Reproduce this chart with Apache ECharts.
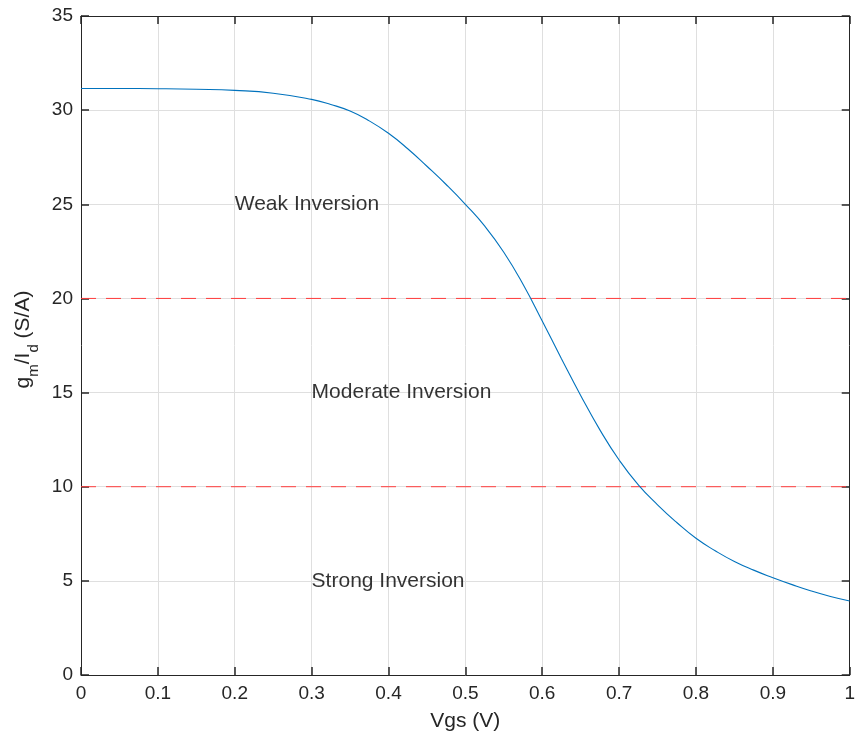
<!DOCTYPE html>
<html>
<head>
<meta charset="utf-8">
<script src="https://cdn.jsdelivr.net/npm/echarts@6/dist/echarts.min.js"></script>
<style>
html,body{margin:0;padding:0;background:#fff;}
#c{width:858px;height:742px;}
</style>
</head>
<body>
<div id="c"></div>
<script>
// Curve data: Vgs (V) and gm/Id (S/A)
const vgs = [0, 0.05, 0.1, 0.15, 0.2, 0.25, 0.3, 0.325, 0.35, 0.375, 0.4, 0.425, 0.45, 0.475, 0.5, 0.525, 0.55, 0.575, 0.6, 0.625, 0.65, 0.675, 0.7, 0.725, 0.75, 0.775, 0.8, 0.825, 0.85, 0.875, 0.9, 0.925, 0.95, 0.975, 1.0];
const gmId = [31.15, 31.15, 31.14, 31.11, 31.05, 30.9, 30.57, 30.3, 29.95, 29.43, 28.77, 27.95, 27.02, 26.05, 25.0, 23.85, 22.45, 20.75, 18.8, 16.8, 14.85, 13.02, 11.42, 10.1, 9.04, 8.1, 7.26, 6.6, 6.03, 5.57, 5.17, 4.8, 4.46, 4.17, 3.93];
// Region boundaries
const thresholdLevels = [20, 10];
// Region annotations
const annoX = [0.2, 0.3, 0.3];
const annoY = [25, 15, 5];
const annoText = ['Weak Inversion', 'Moderate Inversion', 'Strong Inversion'];

const FONT = '"Liberation Sans", Arial, Helvetica, sans-serif';
const AX = '#262626';
const GRIDC = '#dfdfdf';

const chart = echarts.init(document.getElementById('c'), null, {renderer: 'canvas'});

const curve = vgs.map((v, i) => [v, gmId[i]]);
const series = [];
thresholdLevels.forEach(lv => {
  series.push({
    type: 'line', data: [[0, lv], [1, lv]], symbol: 'none', silent: true,
    lineStyle: {color: '#ff3b3b', width: 1, type: [15, 10]}, z: 3
  });
});
series.push({
  type: 'line', data: curve, symbol: 'none', smooth: 0.5, silent: true,
  lineStyle: {color: '#0072BD', width: 1.1}, z: 4
});
series.push({
  type: 'scatter', symbolSize: 0, silent: true,
  data: annoX.map((x, i) => [x, annoY[i], annoText[i]]),
  label: {
    show: true, position: 'right', distance: 0,
    formatter: p => p.value[2],
    color: '#000', fontFamily: FONT, fontSize: 21
  }, z: 5
});

const commonLine = {show: true, onZero: false, lineStyle: {color: AX, width: 1}};
const tick = {show: true, inside: true, length: 8, lineStyle: {color: AX, width: 1.5}};

chart.setOption({
  animation: false,
  backgroundColor: '#fff',
  grid: {left: 81, right: 7, top: 16, bottom: 67, containLabel: false},
  xAxis: [{
    type: 'value', min: 0, max: 1, interval: 0.1, position: 'bottom',
    axisLine: commonLine, axisTick: tick,
    axisLabel: {color: AX, fontFamily: FONT, fontSize: 19, margin: 9},
    splitLine: {show: true, lineStyle: {color: GRIDC, width: 1}},
    name: 'Vgs (V)', nameLocation: 'middle', nameGap: 36,
    nameTextStyle: {color: AX, fontFamily: FONT, fontSize: 21}
  }, {
    type: 'value', min: 0, max: 1, interval: 0.1, position: 'top',
    axisLine: commonLine, axisTick: tick, axisLabel: {show: false}, splitLine: {show: false}
  }],
  yAxis: [{
    type: 'value', min: 0, max: 35, interval: 5, position: 'left',
    axisLine: commonLine, axisTick: tick,
    axisLabel: {color: AX, fontFamily: FONT, fontSize: 19, margin: 8},
    splitLine: {show: true, lineStyle: {color: GRIDC, width: 1}},
    name: '{a|g}{s|m}{a|/I}{s|d}{a| (S/A)}', nameLocation: 'middle', nameGap: 38, nameRotate: 90,
    nameTextStyle: {
      color: AX, fontFamily: FONT, fontSize: 21, padding: [0, 0, 0, 12],
      rich: {
        a: {color: AX, fontFamily: FONT, fontSize: 21, lineHeight: 36, verticalAlign: 'middle'},
        s: {color: AX, fontFamily: FONT, fontSize: 15, lineHeight: 36, verticalAlign: 'bottom'}
      }
    }
  }, {
    type: 'value', min: 0, max: 35, interval: 5, position: 'right',
    axisLine: commonLine, axisTick: tick, axisLabel: {show: false}, splitLine: {show: false}
  }],
  series: series
});
</script>
</body>
</html>
